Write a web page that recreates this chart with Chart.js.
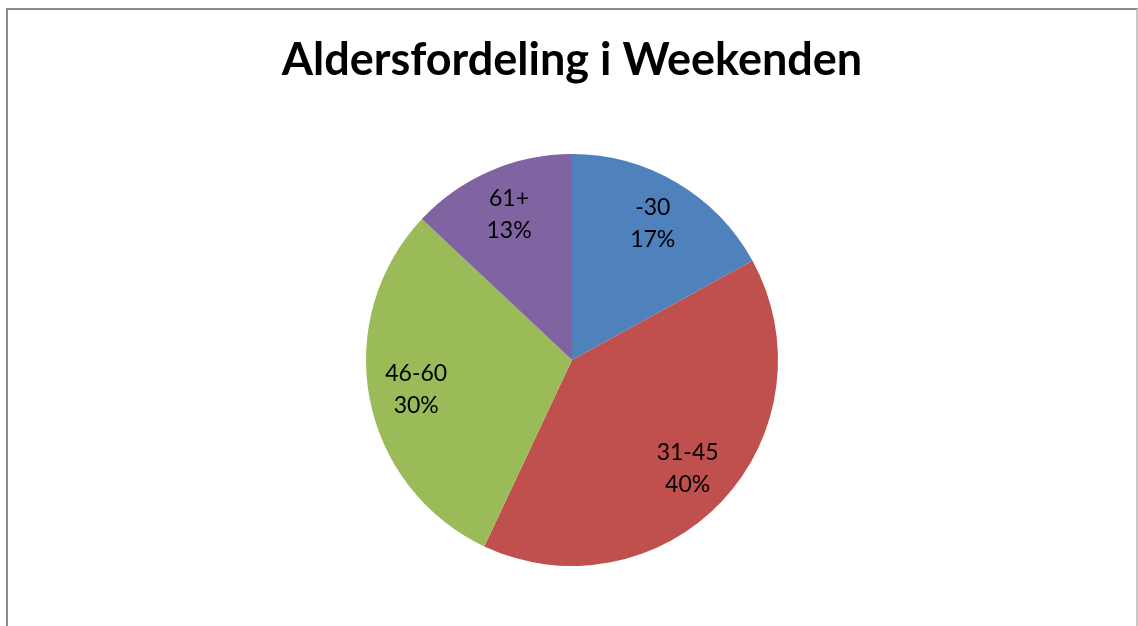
<!DOCTYPE html>
<html>
<head>
<meta charset="utf-8">
<script src="https://cdn.jsdelivr.net/npm/chart.js@4"></script>
<style>
  html, body { margin: 0; padding: 0; background: #fff; overflow: hidden; }
  #frame { position: absolute; left: 6px; top: 8px; width: 1128px; height: 640px; border: 2px solid #8c8c8c; border-right-color: #c8c8c8; }
  #wrap { position: absolute; left: 0; top: 0; width: 1138px; height: 626px; }
</style>
</head>
<body>
<div id="frame"></div>
<div id="wrap"><canvas id="chart"></canvas></div>
<script>
// Data
const ageGroups = ['-30', '31-45', '46-60', '61+'];
const shares = [17, 40, 30, 13];
const sliceColors = ['#4f81bd', '#c0504d', '#9bbb59', '#8064a2'];

// label "category\npercent" inside each slice
const sliceLabels = {
  id: 'sliceLabels',
  afterDatasetsDraw(chart) {
    const c = chart.ctx;
    const total = shares.reduce((a, b) => a + b, 0);
    chart.getDatasetMeta(0).data.forEach((arc, i) => {
      const p = arc.getProps(['x', 'y', 'startAngle', 'endAngle', 'outerRadius']);
      const mid = (p.startAngle + p.endAngle) / 2;
      const r = p.outerRadius * 0.77;
      const x = p.x + Math.cos(mid) * r;
      const y = p.y + Math.sin(mid) * r;
      c.save();
      c.fillStyle = '#000';
      c.font = '23px Lato, "Open Sans", sans-serif';
      c.textAlign = 'center';
      c.textBaseline = 'middle';
      c.fillText(ageGroups[i], x, y - 16);
      c.fillText(Math.round(shares[i] / total * 100) + '%', x, y + 16);
      c.restore();
    });
  }
};

new Chart(document.getElementById('chart'), {
  type: 'pie',
  data: {
    labels: ageGroups,
    datasets: [{
      data: shares,
      backgroundColor: sliceColors,
      borderWidth: 0
    }]
  },
  options: {
    responsive: true,
    maintainAspectRatio: false,
    animation: false,
    layout: { padding: { top: 10, bottom: 60, left: 6, right: 0 } },
    plugins: {
      legend: { display: false },
      tooltip: { enabled: false },
      title: {
        display: true,
        text: 'Aldersfordeling i Weekenden',
        color: '#000',
        font: { family: 'Lato, "Open Sans", sans-serif', size: 45, weight: 'bold', lineHeight: 1.2 },
        padding: { top: 23, bottom: 67 }
      }
    }
  },
  plugins: [sliceLabels]
});
</script>
</body>
</html>
